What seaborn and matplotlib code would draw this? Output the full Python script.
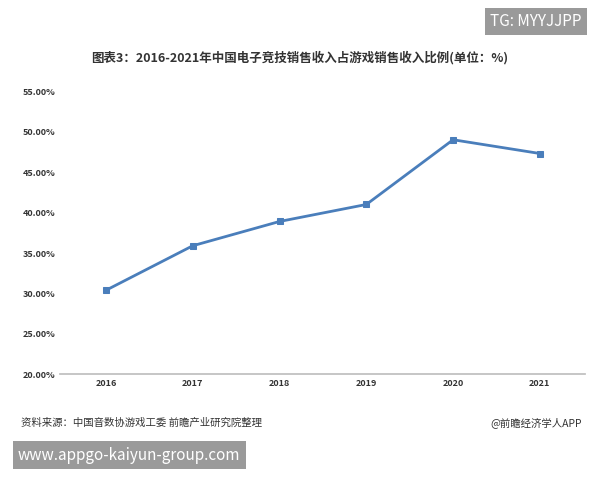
import matplotlib
matplotlib.use("Agg")
import matplotlib.pyplot as plt
import seaborn as sns
import pandas as pd
from matplotlib.ticker import FuncFormatter

years = ["2016", "2017", "2018", "2019", "2020", "2021"]
share = [30.4, 35.9, 38.9, 41.0, 49.0, 47.3]
yticks = [20, 25, 30, 35, 40, 45, 50, 55]

sns.set_theme(style="white")
plt.rcParams['font.family'] = ['Noto Sans CJK SC', 'DejaVu Sans']

df = pd.DataFrame({"year": years, "share": share})
fig = plt.figure(figsize=(6, 4.8), dpi=100)
ax = fig.add_axes([0.1, 0.22, 0.875, 0.59])
sns.lineplot(data=df, x="year", y="share", ax=ax, color="#4a7ebb", linewidth=2,
             marker="s", markersize=5, markeredgecolor="#4a7ebb", sort=False)
ax.set_ylim(20, 55)
ax.set_yticks(yticks)
ax.yaxis.set_major_formatter(FuncFormatter(lambda v, p: f"{v:.2f}%"))
ax.set_xlim(-0.53, 5.52)
ax.set_xlabel("")
ax.set_ylabel("")
for s in ["top", "right", "left"]:
    ax.spines[s].set_visible(False)
ax.spines["bottom"].set_color("#bfbfbf")
ax.tick_params(axis="both", labelsize=6.5, length=0, colors="#333333")
for t in ax.get_xticklabels() + ax.get_yticklabels():
    t.set_fontweight("bold")

fig.text(0.5, 0.88, "图表3：2016-2021年中国电子竞技销售收入占游戏销售收入比例(单位：%)",
         ha="center", va="center", fontsize=9, fontweight="bold", color="#333333")
fig.text(0.035, 0.12, "资料来源：中国音数协游戏工委 前瞻产业研究院整理", fontsize=7.5, color="#333333", va="center")
fig.text(0.97, 0.12, "@前瞻经济学人APP", fontsize=7.5, color="#333333", va="center", ha="right")
fig.text(0.03, 0.052, "www.appgo-kaiyun-group.com", fontsize=11, color="white", va="center",
         bbox=dict(boxstyle="square,pad=0.35", fc="#9a9a9a", ec="none"))
fig.text(0.97, 0.955, "TG: MYYJJPP", fontsize=11, color="white", va="center", ha="right",
         bbox=dict(boxstyle="square,pad=0.35", fc="#9a9a9a", ec="none"))
fig.savefig("out.png", dpi=100)
